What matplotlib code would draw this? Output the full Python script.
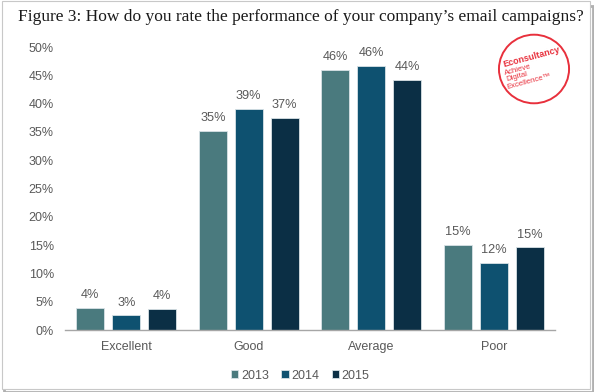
import numpy as np
import matplotlib.pyplot as plt
from matplotlib.patches import Ellipse, Rectangle

# data
categories = ["Excellent", "Good", "Average", "Poor"]
years = ["2013", "2014", "2015"]
values_2013 = [3.9, 35.2, 46.0, 15.0]
values_2014 = [2.6, 39.1, 46.6, 11.8]
values_2015 = [3.7, 37.5, 44.2, 14.6]
labels_2013 = ["4%", "35%", "46%", "15%"]
labels_2014 = ["3%", "39%", "46%", "12%"]
labels_2015 = ["4%", "37%", "44%", "15%"]
y_ticks = [0, 5, 10, 15, 20, 25, 30, 35, 40, 45, 50]

colors = ["#4a7a7e", "#0e5170", "#0b2f45"]
text_gray = "#595959"
red = "#e8303c"

plt.rcParams["font.family"] = ["Liberation Sans", "DejaVu Sans"]

fig = plt.figure(figsize=(5.94, 3.92), dpi=100)

# frame with a little shadow (kept behind the axes)
fig.patches.append(Rectangle((0.006, 0.0), 0.992, 0.985, transform=fig.transFigure,
                             facecolor="none", edgecolor="#b0b0b0", lw=2.0, zorder=-2))
fig.patches.append(Rectangle((0.003, 0.008), 0.99, 0.99, transform=fig.transFigure,
                             facecolor="white", edgecolor="#c8c8c8", lw=0.8, zorder=-1))

ax = fig.add_axes([0.1094, 0.158, 0.825, 0.722])
ax.set_facecolor("none")

x = np.arange(len(categories))
width = 0.228
step = 0.293
series = [values_2013, values_2014, values_2015]
labels = [labels_2013, labels_2014, labels_2015]
for i, (vals, labs) in enumerate(zip(series, labels)):
    pos = x + (i - 1) * step
    bars = ax.bar(pos, vals, width, color=colors[i], edgecolor="#d8e2e6", lw=0.6,
                  label=years[i], zorder=2)
    for b, lab in zip(bars, labs):
        ax.text(b.get_x() + b.get_width() / 2, b.get_height() + 1.2, lab,
                ha="center", va="bottom", fontsize=9.2, color=text_gray)

ax.set_xlim(-0.5, 3.5)
ax.set_ylim(0, 50)
ax.set_yticks(y_ticks)
ax.set_yticklabels([f"{t}%" for t in y_ticks])
ax.set_xticks(x)
ax.set_xticklabels(categories)
ax.tick_params(axis="both", length=0, labelsize=9, labelcolor=text_gray)
ax.tick_params(axis="y", pad=8)
ax.tick_params(axis="x", pad=8)
for s in ["top", "right", "left"]:
    ax.spines[s].set_visible(False)
ax.spines["bottom"].set_color("#a6a6a6")
ax.spines["bottom"].set_linewidth(1.0)

leg = ax.legend(loc="upper center", bbox_to_anchor=(0.48, -0.1), ncol=3, frameon=False,
                fontsize=9, handlelength=0.6, handleheight=0.6, handletextpad=0.2,
                columnspacing=1.0, labelcolor=text_gray)

fig.text(0.03, 0.935, "Figure 3: How do you rate the performance of your company\u2019s email campaigns?",
         fontsize=12.5, family="Liberation Serif", color="#1a1a1a", va="bottom")

# Econsultancy logo stamp
cx, cy = 0.899, 0.824
fig.patches.append(Ellipse((cx, cy), 0.118, 0.175, transform=fig.transFigure,
                           facecolor="none", edgecolor=red, lw=1.4, zorder=3))
fig.text(531.7 / 594, 1 - 57.3 / 392, "Econsultancy", color=red, fontsize=6.5, weight="bold",
         rotation=15, ha="center", va="center")
fig.text(518 / 594, 1 - 69.5 / 392, "Achieve", color=red, fontsize=5.6, rotation=15,
         ha="center", va="center")
fig.text(517 / 594, 1 - 76.5 / 392, "Digital", color=red, fontsize=5.6, rotation=15,
         ha="center", va="center")
fig.text(529 / 594, 1 - 82 / 392, "Excellence\u2122", color=red, fontsize=5.6, rotation=15,
         ha="center", va="center")

fig.savefig("out.png", dpi=100)
